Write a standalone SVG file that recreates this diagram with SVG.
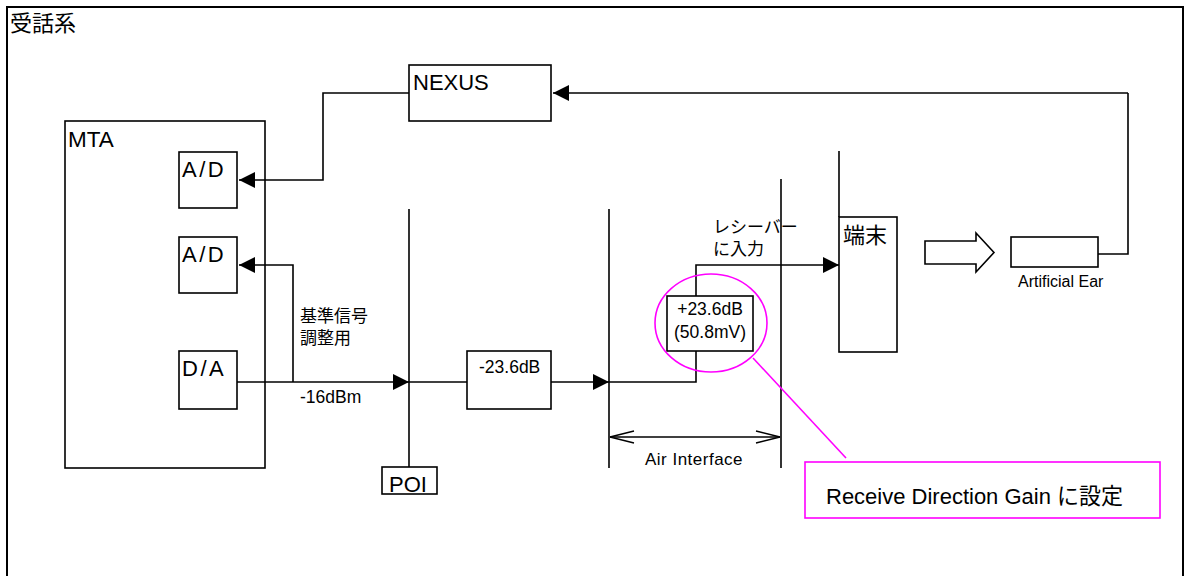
<svg xmlns="http://www.w3.org/2000/svg" width="1186" height="576" viewBox="0 0 1186 576">
<defs>
<style>
.box{fill:#fff;stroke:#000;stroke-width:1.6}
.ln{fill:none;stroke:#000;stroke-width:1.6}
.mg{fill:none;stroke:#ff00ff;stroke-width:1.6}
text{font-family:"Liberation Sans","Noto Sans CJK JP",sans-serif;fill:#000}
</style>
<marker id="ah" markerWidth="16" markerHeight="16" viewBox="0 0 16 16" refX="16" refY="8" orient="auto" markerUnits="userSpaceOnUse">
<path d="M0,0 L16,8 L0,16 z" fill="#000"/>
</marker>
<marker id="oa" markerWidth="26" markerHeight="14" viewBox="0 0 26 14" refX="25" refY="7" orient="auto-start-reverse" markerUnits="userSpaceOnUse">
<path d="M1,1 L25,7 L1,13" fill="none" stroke="#000" stroke-width="1.3"/>
</marker>
</defs>
<rect width="1186" height="576" fill="#fff"/>
<g id="frame">
<path d="M7,590 V7 H1183 V590" fill="none" stroke="#000" stroke-width="2"/>
<text x="10" y="31" font-size="22">受話系</text>
</g>
<g id="MTA">
<rect class="box" x="65" y="121" width="200" height="347"/>
<text x="68" y="147" font-size="22.5">MTA</text>
</g>
<g id="AD1">
<rect class="box" x="179" y="152" width="58" height="56"/>
<text x="182" y="177" font-size="22" letter-spacing="2.5">A/D</text>
</g>
<g id="AD2">
<rect class="box" x="179" y="237" width="58" height="56"/>
<text x="182" y="262" font-size="22" letter-spacing="2.5">A/D</text>
</g>
<g id="DA">
<rect class="box" x="179" y="351" width="58" height="58"/>
<text x="182" y="376" font-size="22" letter-spacing="2.5">D/A</text>
</g>
<g id="NEXUS">
<rect class="box" x="409" y="65" width="142" height="56"/>
<text x="413" y="90" font-size="22">NEXUS</text>
</g>
<g id="POI">
<rect class="box" x="382" y="467" width="55" height="27"/>
<text x="389" y="492" font-size="22">POI</text>
</g>
<g id="att">
<rect class="box" x="467" y="351" width="84" height="58"/>
<text x="479" y="373" font-size="17.5">-23.6dB</text>
</g>
<g id="gain">
<rect class="box" x="667" y="296" width="86" height="55"/>
<text x="710" y="315" font-size="17.5" text-anchor="middle">+23.6dB</text>
<text x="710" y="338" font-size="17.5" text-anchor="middle">(50.8mV)</text>
</g>
<g id="terminal">
<rect class="box" x="839" y="217" width="58" height="135"/>
<text x="843" y="243" font-size="22">端末</text>
</g>
<g id="bigarrow">
<path class="box" d="M925,241 H976 V233 L994,252.5 L976,272 V264 H925 z"/>
</g>
<g id="ear">
<rect class="box" x="1011" y="237" width="87" height="30"/>
<text x="1018" y="287" font-size="16">Artificial Ear</text>
</g>
<g id="connectors">
<path class="ln" d="M409,93 H323 V180 H239" marker-end="url(#ah)"/>
<path class="ln" d="M1128,93 H553" marker-end="url(#ah)"/>
<path class="ln" d="M1098,254 H1128 V93"/>
<path class="ln" d="M237,382 H409" marker-end="url(#ah)"/>
<path class="ln" d="M293,382 V265 H239" marker-end="url(#ah)"/>
<path class="ln" d="M409,382 H467"/>
<path class="ln" d="M551,382 H609" marker-end="url(#ah)"/>
<path class="ln" d="M609,382 H696 V351"/>
<path class="ln" d="M696,296 V265 H839" marker-end="url(#ah)"/>
<path class="ln" d="M409,209 V467"/>
<path class="ln" d="M609,209 V468"/>
<path class="ln" d="M781,179 V468"/>
<path class="ln" d="M839,151 V217"/>
<path class="ln" d="M610,437 H780" marker-start="url(#oa)" marker-end="url(#oa)"/>
</g>
<g id="labels">
<text x="300" y="322" font-size="17">基準信号</text>
<text x="300" y="344" font-size="17">調整用</text>
<text x="300" y="403" font-size="17.5">-16dBm</text>
<text x="713" y="233" font-size="17">レシーバー</text>
<text x="713" y="255" font-size="17">に入力</text>
<text x="694" y="465" font-size="17" text-anchor="middle" letter-spacing="0.5">Air Interface</text>
</g>
<g id="callout">
<ellipse class="mg" cx="711" cy="323" rx="56" ry="49"/>
<path class="mg" d="M753,358 L846,458"/>
<rect class="mg" x="805" y="462" width="355" height="56"/>
<text x="826" y="504" font-size="22.5" textLength="297" lengthAdjust="spacingAndGlyphs">Receive Direction Gain に設定</text>
</g>
</svg>
